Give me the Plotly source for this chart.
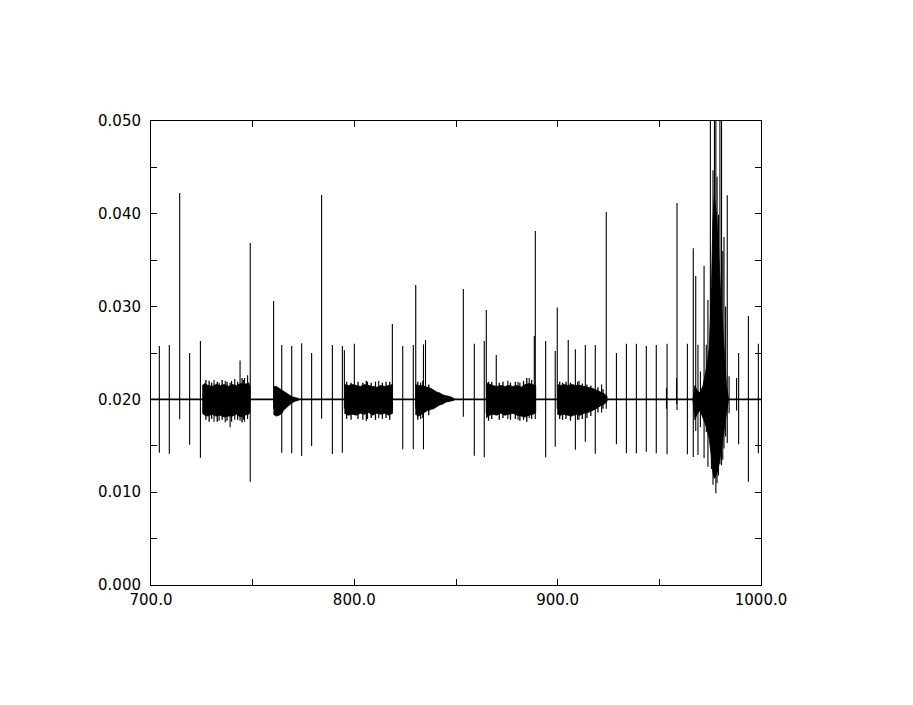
import plotly.graph_objects as go

# ---------------- data ----------------
baseline = 0.0200
x_start, x_end = 700.0, 1000.0

# isolated spikes: position, top value, bottom value
spike_x = [704.1, 709.0, 714.1, 719.0, 724.3, 731.0, 733.5, 736.5, 738.9, 741.2, 743.8, 746.0, 747.5,
           748.8, 760.3, 764.3, 769.2, 774.1, 779.0, 783.9, 789.2, 794.1, 795.1, 800.0, 806.5, 812.0,
           818.7, 823.8, 829.0, 830.2, 834.0, 835.0, 853.6, 859.0, 863.9, 864.9, 869.8, 875.5, 880.5,
           886.0, 888.5, 889.0, 894.1, 898.8, 899.8, 905.2, 908.7, 910.5, 913.6, 918.5, 921.6, 923.9,
           928.9, 933.8, 938.7, 943.6, 948.5, 953.5, 953.8, 958.5, 958.7, 963.8, 966.7, 967.9, 969.0,
           970.2, 972.0, 973.1, 973.9, 975.1, 975.6, 976.4, 977.1, 977.8, 978.4, 979.1, 979.8, 980.6,
           981.2, 981.8, 982.6, 983.4, 984.3, 988.0, 989.0, 993.8, 998.7]
spike_top = [0.02575, 0.02586, 0.04224, 0.02500, 0.02630, 0.02210, 0.02180, 0.02200, 0.02180, 0.02220, 0.02420, 0.02230, 0.02260,
             0.03685, 0.03060, 0.02586, 0.02575, 0.02604, 0.02500, 0.04203, 0.02586, 0.02575, 0.02530, 0.02600, 0.02190, 0.02200,
             0.02812, 0.02575, 0.02586, 0.03233, 0.02593, 0.02640, 0.03190, 0.02600, 0.02629, 0.02963, 0.02478, 0.02200, 0.02190,
             0.02230, 0.02683, 0.03815, 0.02629, 0.02522, 0.02990, 0.02640, 0.02540, 0.02200, 0.02586, 0.02586, 0.02160, 0.04020,
             0.02500, 0.02600, 0.02600, 0.02575, 0.02586, 0.02120, 0.02600, 0.02230, 0.04116, 0.02600, 0.03628, 0.03330, 0.02590,
             0.02300, 0.03440, 0.02590, 0.03070, 0.05200, 0.03200, 0.04470, 0.05200, 0.05200, 0.04400, 0.03990, 0.05200, 0.05200,
             0.03600, 0.03750, 0.03000, 0.04200, 0.02250, 0.02230, 0.02500, 0.02900, 0.02600]
spike_bottom = [0.01426, 0.01415, 0.01786, 0.01512, 0.01372, 0.01760, 0.01770, 0.01750, 0.01700, 0.01780, 0.01770, 0.01760, 0.01790,
                0.01113, 0.01900, 0.01426, 0.01419, 0.01390, 0.01498, 0.01792, 0.01412, 0.01426, 0.01900, 0.01900, 0.01790, 0.01800,
                0.01880, 0.01462, 0.01462, 0.01900, 0.01462, 0.01950, 0.01814, 0.01394, 0.01376, 0.01850, 0.01900, 0.01790, 0.01780,
                0.01800, 0.01900, 0.01790, 0.01376, 0.01490, 0.01900, 0.01900, 0.01458, 0.01780, 0.01544, 0.01415, 0.01860, 0.01900,
                0.01516, 0.01419, 0.01419, 0.01437, 0.01419, 0.01900, 0.01408, 0.01950, 0.01886, 0.01408, 0.01380, 0.01660, 0.01400,
                0.01700, 0.01365, 0.01650, 0.01275, 0.01600, 0.01250, 0.01080, 0.01150, 0.00990, 0.01100, 0.01180, 0.01300, 0.01290,
                0.01350, 0.01470, 0.01600, 0.01530, 0.01850, 0.01880, 0.01516, 0.01113, 0.01419]

# short needles on the edges of the dense bursts: position, top value, bottom value
needle_x = [727.0, 728.6, 729.8, 732.6, 735.0, 737.4, 739.6, 742.6, 744.8, 745.4,
            796.2, 798.4, 801.8, 804.2, 805.9, 808.3, 810.4, 813.8, 815.6, 817.4,
            831.2, 832.6, 833.7, 836.6,
            866.0, 867.6, 871.3, 873.1, 876.8, 879.2, 881.4, 883.2, 884.8, 887.2,
            901.0, 902.4, 904.1, 906.3, 909.8, 912.1, 914.4, 916.3, 919.8, 922.3]
needle_top = [0.0221, 0.0220, 0.0218, 0.0219, 0.0221, 0.0219, 0.0220, 0.0219, 0.0223, 0.0221,
              0.0219, 0.0218, 0.0219, 0.0218, 0.0220, 0.0218, 0.0219, 0.0218, 0.0219, 0.0219,
              0.0219, 0.0218, 0.0220, 0.0216,
              0.0219, 0.0219, 0.0218, 0.0219, 0.0218, 0.0219, 0.0218, 0.0220, 0.0223, 0.0221,
              0.0219, 0.0218, 0.0219, 0.0218, 0.0219, 0.0217, 0.0216, 0.0215, 0.0213, 0.0211]
needle_bottom = [0.0178, 0.0176, 0.0179, 0.0176, 0.0178, 0.0177, 0.0176, 0.0178, 0.0175, 0.0178,
                 0.0179, 0.0178, 0.0179, 0.0178, 0.0177, 0.0180, 0.0178, 0.0179, 0.0180, 0.0178,
                 0.0178, 0.0179, 0.0180, 0.0183,
                 0.0177, 0.0179, 0.0178, 0.0180, 0.0178, 0.0179, 0.0177, 0.0178, 0.0176, 0.0179,
                 0.0179, 0.0178, 0.0179, 0.0177, 0.0178, 0.0179, 0.0180, 0.0182, 0.0186, 0.0190]

# dense bursts: envelope positions, upper edge, lower edge
burst_a_x = [725.2, 726.5, 728.0, 730.0, 732.0, 734.0, 736.0, 738.0, 740.0, 742.0, 744.0, 746.0, 748.0, 748.7]
burst_a_up = [0.0215, 0.0217, 0.0215, 0.0214, 0.0216, 0.0215, 0.0216, 0.0214, 0.0216, 0.0215, 0.0217, 0.0216, 0.0218, 0.0214]
burst_a_low = [0.0185, 0.0183, 0.0182, 0.0184, 0.0182, 0.0183, 0.0181, 0.0182, 0.0182, 0.0184, 0.0181, 0.0183, 0.0184, 0.0186]

burst_b_x = [760.2, 761.5, 763.0, 764.3, 765.5, 766.7, 768.0, 769.2, 770.8, 772.5]
burst_b_up = [0.0214, 0.0214, 0.0212, 0.0210, 0.0208, 0.0207, 0.0205, 0.0203, 0.0202, 0.0201]
burst_b_low = [0.0184, 0.0182, 0.0183, 0.0185, 0.0189, 0.0192, 0.0194, 0.0196, 0.0198, 0.0199]

burst_c_x = [795.1, 797.0, 799.0, 801.0, 803.0, 805.0, 807.0, 809.0, 811.0, 813.0, 815.0, 817.0, 818.8]
burst_c_up = [0.0216, 0.0215, 0.0216, 0.0215, 0.0214, 0.0216, 0.0215, 0.0214, 0.0213, 0.0215, 0.0214, 0.0215, 0.0216]
burst_c_low = [0.0185, 0.0183, 0.0184, 0.0183, 0.0185, 0.0184, 0.0186, 0.0183, 0.0185, 0.0184, 0.0185, 0.0183, 0.0185]

burst_d_x = [830.0, 831.5, 833.0, 834.5, 836.0, 837.5, 839.0, 840.5, 842.0, 843.5, 845.0, 847.0, 849.0]
burst_d_up = [0.0216, 0.0215, 0.0215, 0.0214, 0.0213, 0.0212, 0.0210, 0.0208, 0.0207, 0.0205, 0.0204, 0.0203, 0.0201]
burst_d_low = [0.0184, 0.0182, 0.0184, 0.0186, 0.0188, 0.0189, 0.0190, 0.0192, 0.0194, 0.0195, 0.0197, 0.0198, 0.0199]

burst_e_x = [864.8, 866.5, 868.0, 870.0, 872.0, 874.0, 876.0, 878.0, 880.0, 882.0, 884.0, 886.0, 888.0, 889.2]
burst_e_up = [0.0218, 0.0216, 0.0215, 0.0214, 0.0215, 0.0214, 0.0215, 0.0214, 0.0215, 0.0213, 0.0216, 0.0217, 0.0216, 0.0215]
burst_e_low = [0.0180, 0.0183, 0.0184, 0.0183, 0.0185, 0.0183, 0.0184, 0.0185, 0.0183, 0.0182, 0.0181, 0.0183, 0.0184, 0.0186]

burst_f_x = [899.8, 901.5, 903.0, 905.0, 907.0, 909.0, 911.0, 913.0, 915.0, 917.0, 919.0, 921.0, 923.0, 924.3]
burst_f_up = [0.0216, 0.0215, 0.0216, 0.0215, 0.0216, 0.0215, 0.0215, 0.0214, 0.0213, 0.0212, 0.0210, 0.0208, 0.0206, 0.0203]
burst_f_low = [0.0184, 0.0183, 0.0184, 0.0183, 0.0182, 0.0184, 0.0183, 0.0185, 0.0186, 0.0188, 0.0190, 0.0193, 0.0195, 0.0198]

burst_g_x = [966.5, 967.5, 968.5, 970.0, 971.5, 972.5, 973.5, 974.5, 975.5, 976.3, 977.0, 978.0, 979.0, 980.0, 981.0, 982.0, 983.0, 984.0]
burst_g_up = [0.0200, 0.0215, 0.0210, 0.0207, 0.0215, 0.0225, 0.0238, 0.0255, 0.0310, 0.0390, 0.0420, 0.0400, 0.0370, 0.0320, 0.0280, 0.0245, 0.0215, 0.0201]
burst_g_low = [0.0200, 0.0178, 0.0184, 0.0188, 0.0180, 0.0175, 0.0168, 0.0158, 0.0140, 0.0122, 0.0115, 0.0118, 0.0126, 0.0138, 0.0152, 0.0168, 0.0185, 0.0199]

bursts = [
    (burst_a_x, burst_a_up, burst_a_low),
    (burst_b_x, burst_b_up, burst_b_low),
    (burst_c_x, burst_c_up, burst_c_low),
    (burst_d_x, burst_d_up, burst_d_low),
    (burst_e_x, burst_e_up, burst_e_low),
    (burst_f_x, burst_f_up, burst_f_low),
    (burst_g_x, burst_g_up, burst_g_low),
]

x_tick_vals = [700, 750, 800, 850, 900, 950, 1000]
x_tick_text = ["700.0", "", "800.0", "", "900.0", "", "1000.0"]
y_tick_vals = [0.000, 0.005, 0.010, 0.015, 0.020, 0.025, 0.030, 0.035, 0.040, 0.045, 0.050]
y_tick_text = ["0.000", "", "0.010", "", "0.020", "", "0.030", "", "0.040", "", "0.050"]

# ---------------- figure ----------------
fig = go.Figure()

for bx, bu, bl in bursts:
    fig.add_trace(go.Scatter(
        x=list(bx) + list(reversed(bx)),
        y=list(bu) + list(reversed(bl)),
        mode="lines", fill="toself", fillcolor="black",
        line=dict(color="black", width=0.8), hoverinfo="skip", showlegend=False))

# baseline (slightly thick, as in the original trace)
fig.add_trace(go.Scatter(x=[x_start, x_end], y=[baseline, baseline], mode="lines",
                         line=dict(color="black", width=1.8), hoverinfo="skip", showlegend=False))


def spike_path(xs, tops, bottoms):
    px, py = [], []
    for x, t, b in sorted(zip(xs, tops, bottoms)):
        px += [x, x, x, None]
        py += [t, b, b, None]
    return px, py


nx, ny = spike_path(needle_x, needle_top, needle_bottom)
fig.add_trace(go.Scatter(x=nx, y=ny, mode="lines", connectgaps=False,
                         line=dict(color="black", width=1.3), hoverinfo="skip", showlegend=False))

sx, sy = spike_path(spike_x, spike_top, spike_bottom)
fig.add_trace(go.Scatter(x=sx, y=sy, mode="lines", connectgaps=False,
                         line=dict(color="black", width=1.1), showlegend=False))

axis_font = dict(family="DejaVu Sans", size=15, color="black")
fig.update_layout(
    width=913, height=705,
    margin=dict(l=143, r=160, t=113, b=128),
    paper_bgcolor="white", plot_bgcolor="white",
    showlegend=False,
    xaxis=dict(range=[x_start, x_end], tickmode="array", tickvals=x_tick_vals, ticktext=x_tick_text,
               showline=True, linecolor="black", linewidth=1, mirror="ticks",
               ticks="inside", ticklen=6, tickcolor="black", tickwidth=1,
               showgrid=False, zeroline=False, tickfont=axis_font, ticklabelstandoff=1),
    yaxis=dict(range=[0, 0.05], tickmode="array", tickvals=y_tick_vals, ticktext=y_tick_text,
               showline=True, linecolor="black", linewidth=1, mirror="ticks",
               ticks="inside", ticklen=6, tickcolor="black", tickwidth=1,
               showgrid=False, zeroline=False, tickfont=axis_font, ticklabelstandoff=6),
)

fig.write_html("out.html")
